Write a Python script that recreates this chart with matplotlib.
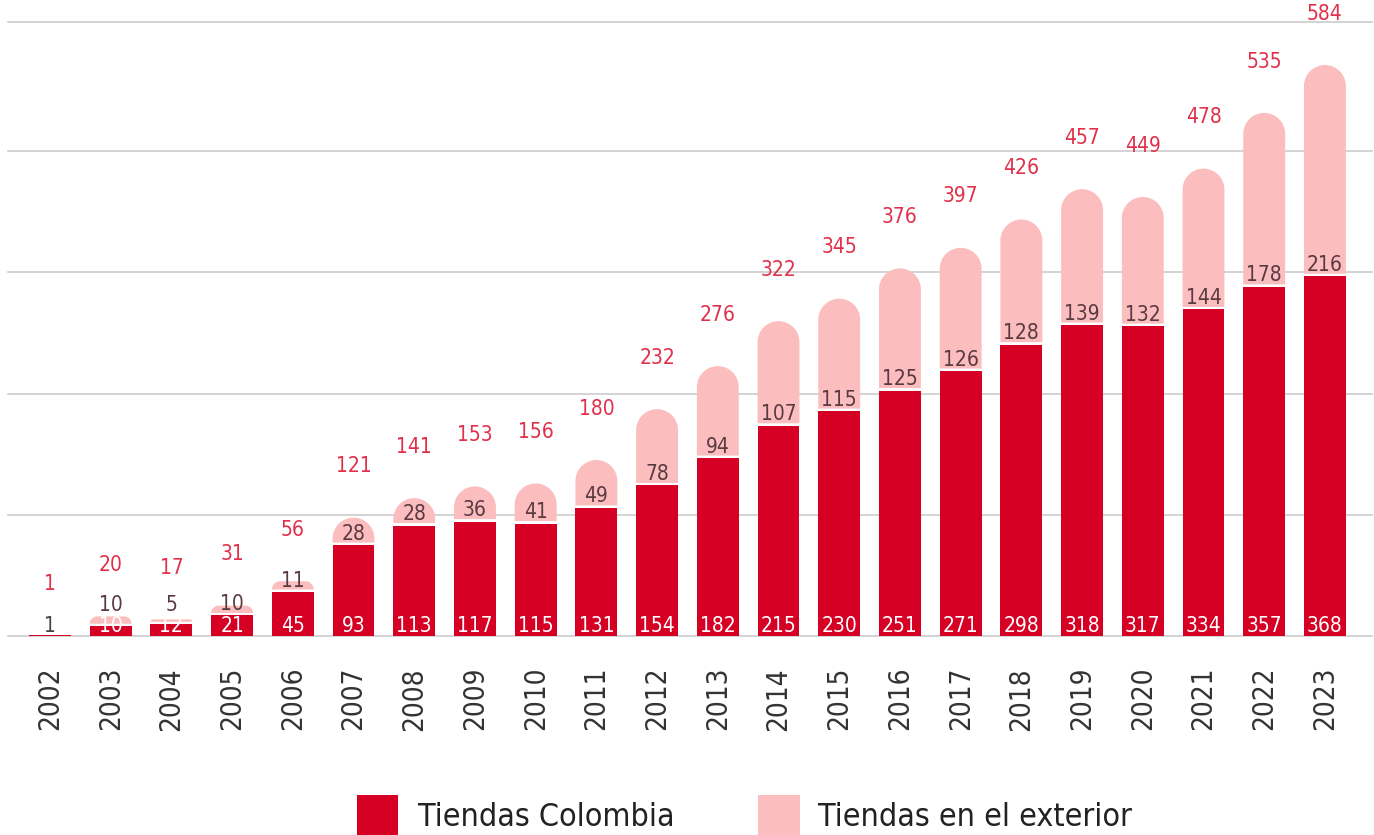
#!/usr/bin/env python3
"""
Tiendas Colombia vs. Tiendas en el exterior, 2002-2023.
Barras apiladas con tapa redondeada en el segmento del exterior.
"""

import matplotlib.pyplot as plt
from matplotlib.path import Path
from matplotlib.patches import PathPatch, Rectangle

# Datos
years = [str(y) for y in range(2002, 2024)]
colombia = [1, 10, 12, 21, 45, 93, 113, 117, 115, 131, 154, 182, 215, 230,
            251, 271, 298, 318, 317, 334, 357, 368]
exterior = [0, 10, 5, 10, 11, 28, 28, 36, 41, 49, 78, 94, 107, 115,
            125, 126, 128, 139, 132, 144, 178, 216]
totals = [1, 20, 17, 31, 56, 121, 141, 153, 156, 180, 232, 276, 322, 345,
          376, 397, 426, 457, 449, 478, 535, 584]
legend_labels = ['Tiendas Colombia', 'Tiendas en el exterior']

RED = '#D50023'
PINK = '#FBBDBD'
TOTAL_COLOR = '#E0304A'
EXT_COLOR = '#5A3A42'
GRID = '#CCCCCC'

plt.rcParams['font.family'] = ['DejaVu Sans']
plt.rcParams['font.stretch'] = 'condensed'

W, H = 1374, 835
fig = plt.figure(figsize=(W / 100, H / 100), dpi=100)
ax = fig.add_axes([8 / W, (H - 636) / H, (1372 - 8) / W, (636 - 22) / H])

YTOP = 628
x0 = (8 - 50) / 60.71
x1 = (1372 - 50) / 60.71
ax.set_xlim(x0, x1)
ax.set_ylim(0, YTOP)
for s in ax.spines.values():
    s.set_visible(False)
ax.set_xticks([])
ax.set_yticks([])

# líneas de referencia
for g in [0, 124, 248, 372, 496, YTOP]:
    ax.axhline(g, color=GRID, lw=1.2, zorder=0, clip_on=False)

# escala en píxeles
px_x = (1372 - 8) / (x1 - x0)
px_y = (636 - 22) / YTOP
bw = 0.69
gap = 2.5 / px_y
K = 0.5523


def rounded_top(xc, y0, y1, r_px):
    rx = r_px / px_x
    ry = r_px / px_y
    l, r = xc - bw / 2, xc + bw / 2
    verts = [(l, y0), (l, y1 - ry),
             (l, y1 - ry + K * ry), (l + rx - K * rx, y1), (l + rx, y1),
             (r - rx, y1),
             (r - rx + K * rx, y1), (r, y1 - ry + K * ry), (r, y1 - ry),
             (r, y0), (l, y0)]
    codes = [Path.MOVETO, Path.LINETO,
             Path.CURVE4, Path.CURVE4, Path.CURVE4,
             Path.LINETO,
             Path.CURVE4, Path.CURVE4, Path.CURVE4,
             Path.LINETO, Path.CLOSEPOLY]
    return Path(verts, codes)


for i, (c, e, t) in enumerate(zip(colombia, exterior, totals)):
    ax.bar(i, c, width=bw, color=RED, zorder=2)
    if e > 0:
        y0 = c + gap
        y1 = c + e
        h_px = (y1 - y0) * px_y
        r_px = min(bw * px_x / 2, h_px)
        ax.add_patch(PathPatch(rounded_top(i, y0, y1, r_px), facecolor=PINK,
                               edgecolor='none', zorder=2))
        ylab = max(c + 1.5 / px_y, 21 / px_y)
        ax.text(i, ylab, str(e), ha='center', va='bottom', fontsize=15,
                color=EXT_COLOR, zorder=4)
    ccol = 'white' if c >= 5 else '#444444'
    ax.annotate(str(c), xy=(i, 0), xytext=(0, 0), textcoords='offset points',
                ha='center', va='bottom', fontsize=15, color=ccol, zorder=4)
    ax.annotate(str(t), xy=(i, c + e), xytext=(0, 37), textcoords='offset points',
                ha='center', va='center', fontsize=15, color=TOTAL_COLOR, zorder=4)
    ax.text(i, -31 / px_y, years[i], rotation=90, ha='center', va='top',
            fontsize=20, color='#333333')

# leyenda
fig.patches.append(Rectangle((357 / W, 0), 41 / W, 40 / H, transform=fig.transFigure,
                             facecolor=RED, edgecolor='none'))
fig.patches.append(Rectangle((758 / W, 0), 42 / W, 40 / H, transform=fig.transFigure,
                             facecolor=PINK, edgecolor='none'))
fig.text(418 / W, 17 / H, legend_labels[0], ha='left', va='center',
         fontsize=23, color='#222222')
fig.text(818 / W, 17 / H, legend_labels[1], ha='left', va='center',
         fontsize=23, color='#222222')

fig.savefig('out.png', dpi=100)
